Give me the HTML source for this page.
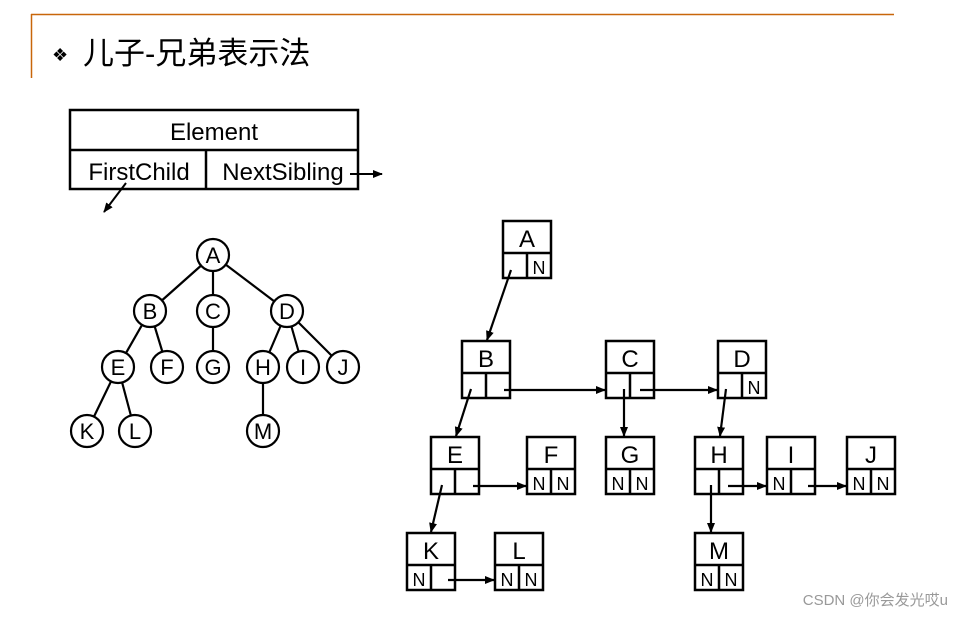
<!DOCTYPE html><html><head><meta charset="utf-8"><style>body{margin:0;background:#fff}</style></head><body>
<svg width="953" height="616" xmlns="http://www.w3.org/2000/svg" font-family="Liberation Sans, sans-serif">
<defs><marker id="a" markerWidth="10" markerHeight="8" refX="9" refY="4" orient="auto" markerUnits="userSpaceOnUse"><path d="M0,0L10,4L0,8z" fill="#000"/></marker></defs>
<line x1="31" y1="14.5" x2="894" y2="14.5" stroke="#c8660a" stroke-width="1.5"/>
<line x1="31.5" y1="14" x2="31.5" y2="78" stroke="#c8660a" stroke-width="1.5"/>
<text x="52" y="61" font-size="18">❖</text>
<text x="83" y="64" font-size="31" font-family="Liberation Sans, Noto Sans CJK SC, sans-serif">儿子-兄弟表示法</text>
<g stroke="#000" stroke-width="2.5" fill="none">
<rect x="70" y="110" width="288" height="79"/><line x1="70" y1="150" x2="358" y2="150"/><line x1="206" y1="150" x2="206" y2="189"/>
</g>
<g font-size="24" text-anchor="middle"><text x="214" y="140">Element</text><text x="139" y="180">FirstChild</text><text x="283" y="180">NextSibling</text></g>
<g stroke="#000" stroke-width="2" marker-end="url(#a)">
<line x1="126" y1="183" x2="104" y2="212"/><line x1="350" y1="174" x2="382" y2="174"/>
</g>
<g stroke="#000" stroke-width="2.2">
<line x1="213" y1="255" x2="150" y2="311"/><line x1="213" y1="255" x2="213" y2="311"/><line x1="213" y1="255" x2="287" y2="311"/>
<line x1="150" y1="311" x2="118" y2="367"/><line x1="150" y1="311" x2="167" y2="367"/><line x1="213" y1="311" x2="213" y2="367"/>
<line x1="287" y1="311" x2="263" y2="367"/><line x1="287" y1="311" x2="303" y2="367"/><line x1="287" y1="311" x2="343" y2="367"/>
<line x1="118" y1="367" x2="87" y2="431"/><line x1="118" y1="367" x2="135" y2="431"/><line x1="263" y1="367" x2="263" y2="431"/>
</g>
<g stroke="#000" stroke-width="2.2" fill="#fff">
<circle cx="213" cy="255" r="16"/><circle cx="150" cy="311" r="16"/><circle cx="213" cy="311" r="16"/><circle cx="287" cy="311" r="16"/>
<circle cx="118" cy="367" r="16"/><circle cx="167" cy="367" r="16"/><circle cx="213" cy="367" r="16"/><circle cx="263" cy="367" r="16"/><circle cx="303" cy="367" r="16"/><circle cx="343" cy="367" r="16"/>
<circle cx="87" cy="431" r="16"/><circle cx="135" cy="431" r="16"/><circle cx="263" cy="431" r="16"/>
</g>
<g font-size="22" text-anchor="middle">
<text x="213" y="263">A</text><text x="150" y="319">B</text><text x="213" y="319">C</text><text x="287" y="319">D</text>
<text x="118" y="375">E</text><text x="167" y="375">F</text><text x="213" y="375">G</text><text x="263" y="375">H</text><text x="303" y="375">I</text><text x="343" y="375">J</text>
<text x="87" y="439">K</text><text x="135" y="439">L</text><text x="263" y="439">M</text>
</g>
<g stroke="#000" stroke-width="2.5" fill="none">
<path d="M503,221h48v57h-48zM503,253h48M527,253v25"/>
<path d="M462,341h48v57h-48zM462,373h48M486,373v25"/>
<path d="M606,341h48v57h-48zM606,373h48M630,373v25"/>
<path d="M718,341h48v57h-48zM718,373h48M742,373v25"/>
<path d="M431,437h48v57h-48zM431,469h48M455,469v25"/>
<path d="M527,437h48v57h-48zM527,469h48M551,469v25"/>
<path d="M606,437h48v57h-48zM606,469h48M630,469v25"/>
<path d="M695,437h48v57h-48zM695,469h48M719,469v25"/>
<path d="M767,437h48v57h-48zM767,469h48M791,469v25"/>
<path d="M847,437h48v57h-48zM847,469h48M871,469v25"/>
<path d="M407,533h48v57h-48zM407,565h48M431,565v25"/>
<path d="M495,533h48v57h-48zM495,565h48M519,565v25"/>
<path d="M695,533h48v57h-48zM695,565h48M719,565v25"/>
</g>
<g font-size="24" text-anchor="middle">
<text x="527" y="247">A</text><text x="486" y="367">B</text><text x="630" y="367">C</text><text x="742" y="367">D</text>
<text x="455" y="463">E</text><text x="551" y="463">F</text><text x="630" y="463">G</text><text x="719" y="463">H</text><text x="791" y="463">I</text><text x="871" y="463">J</text>
<text x="431" y="559">K</text><text x="519" y="559">L</text><text x="719" y="559">M</text>
</g>
<g font-size="18" text-anchor="middle">
<text x="539" y="274">N</text><text x="754" y="394">N</text>
<text x="539" y="490">N</text><text x="563" y="490">N</text>
<text x="618" y="490">N</text><text x="642" y="490">N</text>
<text x="779" y="490">N</text>
<text x="859" y="490">N</text><text x="883" y="490">N</text>
<text x="419" y="586">N</text>
<text x="507" y="586">N</text><text x="531" y="586">N</text>
<text x="707" y="586">N</text><text x="731" y="586">N</text>
</g>
<g stroke="#000" stroke-width="2.2" marker-end="url(#a)">
<line x1="511" y1="270" x2="487" y2="340"/>
<line x1="471" y1="389" x2="456" y2="436"/>
<line x1="504" y1="390" x2="605" y2="390"/>
<line x1="624" y1="389" x2="624" y2="436"/>
<line x1="640" y1="390" x2="717" y2="390"/>
<line x1="726" y1="389" x2="720" y2="436"/>
<line x1="473" y1="486" x2="526" y2="486"/>
<line x1="442" y1="485" x2="431" y2="532"/>
<line x1="711" y1="485" x2="711" y2="532"/>
<line x1="728" y1="486" x2="766" y2="486"/>
<line x1="808" y1="486" x2="846" y2="486"/>
<line x1="448" y1="580" x2="494" y2="580"/>
</g>
<text x="948" y="605" font-size="15" fill="#999" text-anchor="end" font-family="Liberation Sans, Noto Sans CJK SC, sans-serif">CSDN @你会发光哎u</text>
</svg></body></html>
